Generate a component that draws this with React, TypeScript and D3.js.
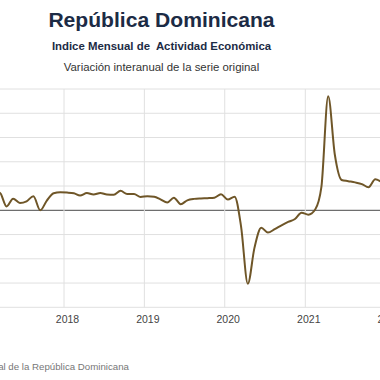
import React from "react";
import * as d3 from "d3";

const startYear = 2017;
const startMonth = 0; // January 2017
const values: number[] = [
  // 2017
  5.0, 6.5, 7.2, 1.6, 4.8, 3.0, 3.7, 5.8, 0.0, 4.0, 7.0, 7.4,
  // 2018
  7.3, 7.0, 6.1, 7.1, 6.5, 7.1, 6.5, 6.4, 8.0, 6.7, 6.7, 5.5,
  // 2019
  5.8, 5.6, 4.5, 3.2, 5.2, 2.5, 4.1, 4.7, 4.9, 5.0, 5.2, 6.6,
  // 2020
  4.4, 5.6, -6.5, -30.3, -15.5, -7.2, -9.2, -7.8, -6.2, -4.8, -3.6, -1.0,
  // 2021
  -1.8, 0.3, 9.5, 47.0, 23.0, 12.5, 12.0, 11.5, 10.8, 9.5, 12.8, 11.5,
];
const yTicks = [-40, -30, -20, -10, 0, 10, 20, 30, 40, 50];
const yearTicks = [2017, 2018, 2019, 2020, 2021, 2022];
const yearLabels = [2018, 2019, 2020, 2021, 2022];
const title = "República Dominicana";
const subtitle = "Indice Mensual de\u00a0 Actividad Económica";
const subtitle2 = "Variación interanual de la serie original";
const source = "Fuente: Banco Central de la República Dominicana";

type Pt = { date: Date; v: number };
const data: Pt[] = values.map((v, i) => ({
  date: new Date(startYear, startMonth + i, 15),
  v,
}));

export default function App() {
  const W = 380;
  const H = 380;
  const x = d3
    .scaleTime()
    .domain([new Date(2018, 0, 1), new Date(2021, 0, 1)])
    .range([64, 305.3]);
  const y = d3.scaleLinear().domain([-40, 50]).range([307.3, 89]);
  const line = d3
    .line<Pt>()
    .x((d) => x(d.date))
    .y((d) => y(d.v))
    .curve(d3.curveMonotoneX);
  const font = "'Liberation Sans', Arial, sans-serif";
  return (
    <svg
      width={W}
      height={H}
      style={{ position: "absolute", left: 0, top: 0, background: "#fff" }}
      fontFamily={font}
    >
      <text x={161.5} y={27} textAnchor="middle" fontSize={21.1} fontWeight="bold" fill="#1c2b45">
        {title}
      </text>
      <text x={161.5} y={49.5} textAnchor="middle" fontSize={11.4} fontWeight="bold" fill="#1c2b45">
        {subtitle}
      </text>
      <text x={161.5} y={70.5} textAnchor="middle" fontSize={11.4} fill="#333">
        {subtitle2}
      </text>
      {yTicks.map((t) => (
        <line
          key={t}
          x1={0}
          x2={W}
          y1={y(t)}
          y2={y(t)}
          stroke={t === 0 ? "#6e6e6e" : "#e0e0e0"}
          strokeWidth={t === 0 ? 1.2 : 1}
        />
      ))}
      {yearTicks.map((yr) => {
        const xx = x(new Date(yr, 0, 1));
        return (
          <line key={yr} x1={xx} x2={xx} y1={y(50)} y2={y(-40)} stroke="#e0e0e0" strokeWidth={1} />
        );
      })}
      {yearLabels.map((yr) => {
        const xx = x(new Date(yr, 0, 1));
        return (
          <text key={yr} x={xx + 3.5} y={323} textAnchor="middle" fontSize={10.5} fill="#444">
            {yr}
          </text>
        );
      })}
      <path d={line(data) || ""} fill="none" stroke="#6f5628" strokeWidth={2} strokeLinejoin="round" />
      <text x={129} y={370} textAnchor="end" fontSize={9.7} fill="#777">
        {source}
      </text>
    </svg>
  );
}
